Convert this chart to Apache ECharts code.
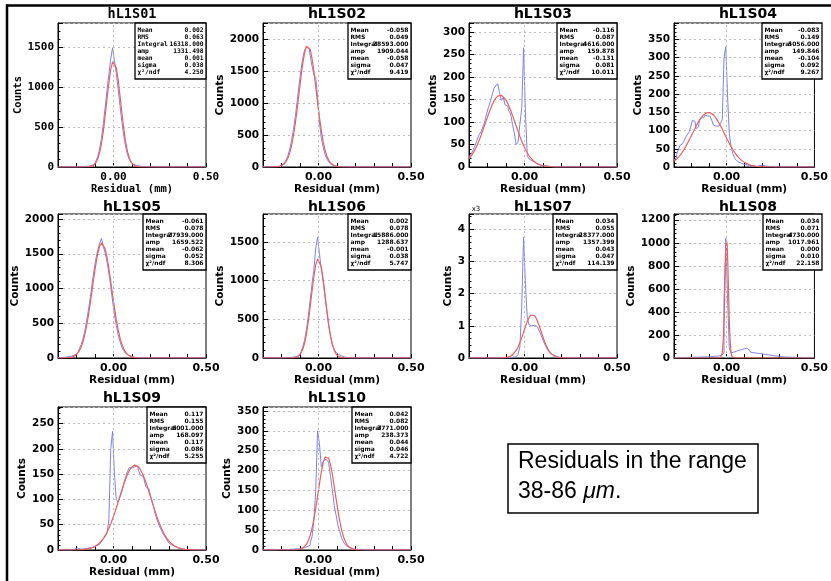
<!DOCTYPE html>
<html><head><meta charset="utf-8">
<script src="https://cdn.jsdelivr.net/npm/echarts@6/dist/echarts.min.js"></script>
<style>html,body{margin:0;padding:0;background:#fff}#c{width:831px;height:581px}</style>
</head><body><div id="c"></div>
<script>
// ---------------- DATA ----------------
const panelNames = ['hL1S01','hL1S02','hL1S03','hL1S04','hL1S05','hL1S06','hL1S07','hL1S08','hL1S09','hL1S10'];
const xTickLabels = ['0.00','0.50'];
const xAxisTitle = 'Residual (mm)';
const yAxisTitle = 'Counts';
const yMax = [1800,2250,320,395,2072,1860,4480,1250,283,360];
const yStep = [500,500,50,50,500,500,1000,200,50,50];

const binCenters = [
 -0.30,-0.29,-0.28,-0.27,-0.26,-0.25,-0.24,-0.23,-0.22,-0.21,
 -0.20,-0.19,-0.18,-0.17,-0.16,-0.15,-0.14,-0.13,-0.12,-0.11,
 -0.10,-0.09,-0.08,-0.07,-0.06,-0.05,-0.04,-0.03,-0.02,-0.01,
 0.00,0.01,0.02,0.03,0.04,0.05,0.06,0.07,0.08,0.09,
 0.10,0.11,0.12,0.13,0.14,0.15,0.16,0.17,0.18,0.19,
 0.20,0.21,0.22,0.23,0.24,0.25,0.26,0.27,0.28,0.29,
 0.30,0.31,0.32,0.33,0.34,0.35,0.36,0.37,0.38,0.39,
 0.40,0.41,0.42,0.43,0.44,0.45,0.46,0.47,0.48,0.49,
 0.50];

const fitX = [-0.300,
 -0.295,-0.285,-0.275,-0.265,-0.255,-0.245,-0.235,-0.225,-0.215,-0.205,
 -0.195,-0.185,-0.175,-0.165,-0.155,-0.145,-0.135,-0.125,-0.115,-0.105,
 -0.095,-0.085,-0.075,-0.065,-0.055,-0.045,-0.035,-0.025,-0.015,-0.005,
 0.005,0.015,0.025,0.035,0.045,0.055,0.065,0.075,0.085,0.095,
 0.105,0.115,0.125,0.135,0.145,0.155,0.165,0.175,0.185,0.195,
 0.205,0.215,0.225,0.235,0.245,0.255,0.265,0.275,0.285,0.295,
 0.305,0.315,0.325,0.335,0.345,0.355,0.365,0.375,0.385,0.395,
 0.405,0.415,0.425,0.435,0.445,0.455,0.465,0.475,0.485,0.495,
 0.500];

const fit8X = [-0.3,-0.05,-0.04,-0.035,-0.03,-0.025,-0.02,-0.0175,-0.015,-0.0125,-0.01,-0.0075,-0.005,-0.0025,0,
 0.0025,0.005,0.0075,0.01,0.0125,0.015,0.0175,0.02,0.025,0.03,0.035,0.04,0.05,0.5];

const hist1 = [
 0,0,0,0,0,0,0,0,0,0,
 0,2,3,4,6,8,10,14,20,28,
 45,75,135,225,360,540,750,960,1160,1350,
 1490,1330,1170,980,770,570,400,260,160,95,
 55,32,20,14,10,8,6,5,4,3,
 3,2,2,1,1,1,0,0,0,0,
 0,0,0,0,0,0,0,0,0,0,
 0,0,0,0,0,0,0,0,0,0,
 0];
const hist2 = [
 2,2,3,3,4,5,5,7,9,12,
 20,38,70,110,180,280,420,590,800,1030,
 1280,1510,1700,1830,1870,1850,1740,1580,1440,1400,
 1100,700,460,310,200,130,80,48,28,16,
 10,7,5,4,3,2,2,1,1,1,
 0,0,1,0,0,0,0,0,0,0,
 0,0,0,0,0,0,0,0,0,0,
 0,0,0,0,0,0,0,0,0,0,
 0];
const hist3 = [
 20,25,32,40,50,62,72,78,90,100,
 118,132,145,160,175,180,185,165,148,155,
 138,135,125,118,95,75,50,55,95,130,
 265,120,25,18,14,11,9,7,5,4,
 3,3,2,2,1,1,0,0,0,0,
 0,0,0,0,0,0,0,0,0,0,
 0,0,0,0,0,0,0,0,0,0,
 0,0,0,0,0,0,0,0,0,0,
 0];
const hist4 = [
 20,25,35,48,60,64,70,80,88,95,
 110,128,125,105,110,128,135,135,142,140,
 140,145,128,115,112,112,114,120,130,300,
 330,195,92,56,37,25,18,13,10,8,
 7,6,5,4,4,3,3,2,3,4,
 5,4,3,2,2,1,1,1,0,1,
 1,0,0,1,0,0,0,0,0,0,
 0,0,0,0,0,0,0,0,0,0,
 0];
const hist5 = [
 3,5,6,8,12,17,22,28,35,45,
 62,88,130,190,280,390,540,700,880,1080,
 1270,1430,1560,1650,1720,1610,1510,1380,1220,1030,
 820,620,470,340,240,160,105,68,43,28,
 18,12,8,6,4,3,2,2,1,1,
 0,1,0,0,0,0,0,0,0,0,
 0,0,0,0,0,0,0,0,0,0,
 0,0,0,0,0,0,0,0,0,0,
 0];
const hist6 = [
 0,0,0,0,0,0,0,0,0,0,
 2,3,4,5,6,8,10,14,20,30,
 45,78,140,235,370,545,750,960,1140,1420,
 1560,1350,1150,990,800,610,420,280,175,110,
 70,45,28,18,12,8,5,3,2,2,
 1,1,0,0,0,0,0,0,0,0,
 0,0,0,0,0,0,0,0,0,0,
 0,0,0,0,0,0,0,0,0,0,
 0];
const hist7 = [
 0,0,0,0,0,0,0,0,0,0,
 0,0,0,0,0,1,1,2,2,3,
 4,6,9,14,22,35,60,110,350,1600,
 3750,2300,1250,1030,1000,1020,1000,970,900,780,
 630,490,360,250,170,115,75,50,35,25,
 18,12,9,7,5,4,3,2,2,1,
 1,0,0,0,0,0,0,0,0,0,
 0,0,0,0,0,0,0,0,0,0,
 0];
const hist8 = [
 2,2,3,3,3,4,4,5,5,5,
 6,6,7,7,8,8,9,9,10,10,
 11,12,14,15,16,18,20,24,40,500,
 1040,520,90,45,50,58,64,68,72,76,
 80,84,82,70,52,46,44,42,40,38,
 34,33,31,30,27,24,21,19,17,15,
 13,11,10,9,8,8,7,7,6,6,
 5,5,5,4,4,3,3,3,2,2,
 2];
const hist9 = [
 0,0,0,0,0,0,0,0,0,2,
 4,3,2,2,3,3,4,4,5,6,
 7,9,11,14,18,22,27,33,60,200,
 235,150,100,95,105,115,130,145,155,163,
 162,165,162,166,158,148,146,140,125,122,
 115,100,88,72,60,50,42,34,28,22,
 16,12,9,7,5,4,3,2,2,1,
 1,1,0,0,0,0,0,0,0,0,
 0];
const hist10 = [
 0,0,0,0,0,0,0,0,0,1,
 2,2,1,1,2,2,2,3,3,3,
 4,5,6,7,9,12,18,33,75,150,
 300,268,210,222,228,226,218,185,150,112,
 88,62,46,31,20,13,8,5,4,3,
 2,2,1,1,0,0,0,0,0,0,
 0,0,0,0,0,0,0,0,0,0,
 0,0,0,0,0,0,0,0,0,0,
 0];

const fit1 = [0,
 0,0,0,0,0,0,0,0,0,0,
 0,0,0,0,0,1,2,5,13,27,
 54,103,180,294,449,640,850,1053,1218,1315,
 1324,1243,1090,892,681,485,322,199,116,63,
 31,15,7,3,1,0,0,0,0,0,
 0,0,0,0,0,0,0,0,0,0,
 0,0,0,0,0,0,0,0,0,0,
 0,0,0,0,0,0,0,0,0,0,
 0];
const fit2 = [0,
 0,0,0,0,0,1,2,3,7,14,
 27,50,86,143,227,344,500,688,915,1158,
 1401,1619,1788,1888,1905,1837,1694,1493,1256,1010,
 778,573,401,269,173,106,62,35,19,10,
 5,2,1,0,0,0,0,0,0,0,
 0,0,0,0,0,0,0,0,0,0,
 0,0,0,0,0,0,0,0,0,0,
 0,0,0,0,0,0,0,0,0,0,
 0];
const fit3 = [18.1,
 20.6,26.3,33,40.7,49.5,59.4,70.1,81.6,93.4,105.3,
 117,128,138,146.4,153,157.5,159.7,159.4,156.8,151.9,
 144.9,136,126,114.7,103,91,79.3,68,57.4,47.7,
 39,31.6,25,19.6,15,11.4,8.5,6.3,4.5,3.2,
 2.3,1.6,1.1,0.7,0.5,0.3,0.2,0.1,0,0,
 0,0,0,0,0,0,0,0,0,0,
 0,0,0,0,0,0,0,0,0,0,
 0,0,0,0,0,0,0,0,0,0,
 0];
const fit4 = [15.5,
 17.4,21.6,26.6,32.4,39,46.3,54.4,63.1,72.3,82,
 91.9,101.7,111.2,120.3,128.5,135.6,141.6,146,148.7,149.8,
 149.1,146.6,142.5,136.9,130,122,113.1,103.6,93.8,83.9,
 74.2,64.9,56.1,47.9,40.3,33.6,27.8,22.6,18.2,14.4,
 11.3,8.8,6.8,5.1,3.8,2.8,2.1,1.5,1.1,0.8,
 0.6,0.4,0.3,0.2,0.1,0,0,0,0,0,
 0,0,0,0,0,0,0,0,0,0,
 0,0,0,0,0,0,0,0,0,0,
 0];
const fit5 = [0,
 0,0,0,0.7,1.7,3.4,6.6,12.3,21.9,37.9,
 63,101,156.5,233.5,335,464,619,797,988,1179,
 1358,1505,1608,1657,1644,1573,1450,1288,1103,910,
 724,555,409,292,200,132,84,51.6,30,17,
 9.6,5,2.5,1.2,0,0,0,0,0,0,
 0,0,0,0,0,0,0,0,0,0,
 0,0,0,0,0,0,0,0,0,0,
 0,0,0,0,0,0,0,0,0,0,
 0];
const fit6 = [0,
 0,0,0,0,0,0,0,0,0,0,
 0,0,0,0,0,1,2.6,6.3,14.3,30,
 60.6,112,192.6,312,469,659,863,1055,1203,1281,
 1273,1179,1019,822,619,434,284,174,99,53,
 26,12.4,5.2,2.2,1,0,0,0,0,0,
 0,0,0,0,0,0,0,0,0,0,
 0,0,0,0,0,0,0,0,0,0,
 0,0,0,0,0,0,0,0,0,0,
 0];
const fit7 = [0,
 0,0,0,0,0,0,0,0,0,0,
 0,0,0,0,0,0,1,2.3,4.8,9.5,
 18,33,58,97,154,235,342,477,634,806,
 979,1136,1261,1338,1356,1314,1216,1076,911,736,
 569,420,297,200,129,79,47,26,14,7,
 3.5,1.7,0.8,0,0,0,0,0,0,0,
 0,0,0,0,0,0,0,0,0,0,
 0,0,0,0,0,0,0,0,0,0,
 0];
const fit8 = [0,0,0.3,2.2,11.3,44.7,137.8,220,330.5,466,617.5,768,898,986.6,1018,
 986.6,898,768,617.5,466,330.5,220,137.8,44.7,11.3,2.2,0.3,0,0];
const fit9 = [0,
 0,0,0,0,0,0,0,0,0,0,
 0.2,0.3,0.5,0.8,1.1,1.6,2.3,3.2,4.4,6,
 8,10.7,13.9,17.9,22.7,28.5,35.3,43,51.8,61.5,
 72,83.2,94.9,106.7,118.4,129.6,140,149.2,156.9,162.7,
 166.5,168,167.4,164.5,159.4,152.4,143.8,134,123,111.4,
 99.6,87.8,76.4,65.6,55.6,46.4,38.2,31.1,25,19.8,
 15.4,11.9,9,6.8,5,3.6,2.6,1.9,1.3,0.9,
 0.6,0.4,0.3,0.2,0.1,0,0,0,0,0,
 0];
const fit10 = [0,
 0,0,0,0,0,0,0,0,0,0,
 0,0,0,0,0,0,0,0,0.5,1.2,
 2.5,4.7,8.4,14.4,23.5,36.7,54.6,77.4,104.7,135.2,
 166.4,195.5,218.9,233.9,238.3,231.7,214.8,190,160.3,128.9,
 99,72.5,50.6,33.7,21.4,13,7.5,4.1,2.2,1.1,
 0.5,0,0,0,0,0,0,0,0,0,
 0,0,0,0,0,0,0,0,0,0,
 0,0,0,0,0,0,0,0,0,0,
 0];

const statLabels = ['Mean','RMS','Integral','amp','mean','sigma','\u03c7\u00b2/ndf'];
const stats1  = ['0.002','0.063','16318.000','1331.498','0.001','0.038','4.250'];
const stats2  = ['-0.058','0.049','28593.000','1909.044','-0.058','0.047','9.419'];
const stats3  = ['-0.116','0.087','4616.000','159.878','-0.131','0.081','10.011'];
const stats4  = ['-0.083','0.149','5056.000','149.846','-0.104','0.092','9.267'];
const stats5  = ['-0.061','0.078','27939.000','1659.522','-0.062','0.052','8.306'];
const stats6  = ['0.002','0.078','15886.000','1288.637','-0.001','0.038','5.747'];
const stats7  = ['0.034','0.055','28377.000','1357.399','0.043','0.047','114.139'];
const stats8  = ['0.034','0.071','4730.000','1017.961','0.000','0.010','22.158'];
const stats9  = ['0.117','0.155','5001.000','168.097','0.117','0.086','5.255'];
const stats10 = ['0.042','0.082','3771.000','238.373','0.044','0.046','4.722'];

const multiplierLabel = 'x3';
const noteLine1 = 'Residuals in the range';
const noteLine2a = '38-86 ';
const noteLine2b = '\u03bcm';
const noteLine2c = '.';

// ---------------- LAYOUT ----------------
const hists = [hist1,hist2,hist3,hist4,hist5,hist6,hist7,hist8,hist9,hist10];
const fits = [fit1,fit2,fit3,fit4,fit5,fit6,fit7,fit8,fit9,fit10];
const fitXs = [fitX,fitX,fitX,fitX,fitX,fitX,fitX,fit8X,fitX,fitX];
const stats = [stats1,stats2,stats3,stats4,stats5,stats6,stats7,stats8,stats9,stats10];

const colLeft = [58,263,469,674];
const rowTop = [23,214,407];
const rowH = [144,144,143];
const plotW = 148;
const titleY = [14.5,207,398];
const countsGap = [32,37,30.5,30,36.5,37,14,37.5,29.5,29];
const boxW = [71,63,60,60,63,63,64,59,59,59];
const boxH = 56;

const SANS = '"DejaVu Sans"';
const MONO = '"DejaVu Sans Mono"';

const grids=[], xAxes=[], yAxes=[], series=[], graphics=[];
for (let k=0;k<10;k++){
  const col=k%4, row=Math.floor(k/4);
  const fam = k===0 ? MONO : SANS;
  const famName = k===0 ? 'DejaVu Sans Mono' : 'DejaVu Sans';
  const L=colLeft[col], T=rowTop[row], H=rowH[row];
  grids.push({left:L, top:T, width:plotW, height:H, show:true, borderColor:'#000', borderWidth:1, backgroundColor:'rgba(0,0,0,0)'});
  xAxes.push({
    gridIndex:k, type:'value', min:-0.3, max:0.5, interval:0.1,
    axisLine:{show:true, onZero:false, lineStyle:{color:'#000', width:1}},
    axisTick:{show:true, inside:true, length:4, lineStyle:{color:'#000', width:1}},
    axisLabel:{show:true, margin:5, fontFamily:famName, fontWeight:'bold', fontSize:11, color:'#000',
      showMinLabel:true, showMaxLabel:true, hideOverlap:false,
      formatter:(v)=> Math.abs(v)<1e-6 ? xTickLabels[0] : (Math.abs(v-0.5)<1e-6 ? xTickLabels[1] : '')},
    splitLine:{show:false},
    name:xAxisTitle, nameLocation:'middle', nameGap:16,
    nameTextStyle:{fontFamily:famName, fontWeight:'bold', fontSize:10.5, color:'#000'}
  });
  const step=yStep[k];
  yAxes.push({
    gridIndex:k, type:'value', min:0, max:yMax[k], interval:step,
    axisLine:{show:true, onZero:false, lineStyle:{color:'#000', width:1}},
    axisTick:{show:true, inside:true, length:5, lineStyle:{color:'#000', width:1}},
    minorTick:{show:true, splitNumber:5, length:2.5, lineStyle:{color:'#000', width:1}},
    axisLabel:{show:true, margin:4, fontFamily:famName, fontWeight:'bold', fontSize:k===0?11:10.5, color:'#000',
      showMaxLabel:true, hideOverlap:false,
      formatter:(v)=>{ const r=v/step; if (Math.abs(r-Math.round(r))>1e-6) return ''; return k===6 ? String(Math.round(v/1000)) : String(Math.round(v)); }},
    splitLine:{show:true, lineStyle:{color:'#bdbdbd', type:[2,3], width:1}},
    name:yAxisTitle, nameLocation:'middle', nameGap:countsGap[k], nameRotate:90,
    nameTextStyle:{fontFamily:famName, fontWeight:'bold', fontSize:10.5, color:'#000'}
  });
  series.push({
    type:'line', xAxisIndex:k, yAxisIndex:k, step:'middle', symbol:'none', showSymbol:false,
    data: binCenters.map((x,i)=>[x,hists[k][i]]),
    lineStyle:{color:'#7f82ea', width:1}, silent:true, z:3,
    markLine:{silent:true, symbol:'none', label:{show:false}, animation:false,
      lineStyle:{color:'#bdbdbd', type:[2,3], width:1}, data:[{xAxis:0}]}
  });
  series.push({
    type:'line', xAxisIndex:k, yAxisIndex:k, symbol:'none', showSymbol:false,
    data: fitXs[k].map((x,i)=>[x,fits[k][i]]),
    lineStyle:{color:'#e9605c', width:1.2}, silent:true, z:4
  });
  graphics.push({type:'text', x:L+plotW/2, y:titleY[row], z:10,
    style:{text:panelNames[k], font:'bold '+(k===0?'13.5px ':'14px ')+fam, fill:'#000',
      textAlign:'center', textVerticalAlign:'middle', align:'center', verticalAlign:'middle'}});
  const bw=boxW[k], bx=L+plotW-bw, by=T;
  graphics.push({type:'rect', shape:{x:bx, y:by, width:bw, height:boxH}, z:20,
    style:{fill:'#fff', stroke:'#000', lineWidth:1.3}});
  for (let r=0;r<7;r++){
    const yy = by+7.3+7*r;
    const f = k===0 ? 'bold 6.3px '+MONO : 'bold 6px '+SANS;
    graphics.push({type:'text', x:bx+2.5, y:yy, z:21,
      style:{text:statLabels[r], font:f, fill:'#000', textAlign:'left', textVerticalAlign:'middle', align:'left', verticalAlign:'middle'}});
    graphics.push({type:'text', x:bx+bw-2.5, y:yy, z:21,
      style:{text:stats[k][r], font:f, fill:'#000', textAlign:'right', textVerticalAlign:'middle', align:'right', verticalAlign:'middle'}});
  }
}
graphics.push({type:'text', x:colLeft[2]+7, y:rowTop[1]-5, z:10,
  style:{text:multiplierLabel, font:'7px '+SANS, fill:'#000', textAlign:'center', textVerticalAlign:'middle', align:'center', verticalAlign:'middle'}});
graphics.push({type:'rect', shape:{x:508, y:444, width:250, height:69}, z:10,
  style:{fill:'#fff', stroke:'#000', lineWidth:1.5}});
graphics.push({type:'text', x:518, y:462, z:11,
  style:{text:noteLine1, font:'23px "Liberation Sans"', fill:'#000', textAlign:'left', textVerticalAlign:'middle', align:'left', verticalAlign:'middle'}});
graphics.push({type:'text', x:518, y:491.5, z:11,
  style:{text:'{n|'+noteLine2a+'}{i|'+noteLine2b+'}{n|'+noteLine2c+'}', fill:'#000', textAlign:'left', textVerticalAlign:'middle', align:'left', verticalAlign:'middle',
    rich:{n:{font:'23px "Liberation Sans"', fill:'#000'}, i:{font:'italic 23px "Liberation Sans"', fill:'#000'}}}});
graphics.push({type:'line', shape:{x1:6, y1:5.5, x2:831, y2:5.5}, z:30, style:{stroke:'#000', lineWidth:2.5}});
graphics.push({type:'line', shape:{x1:7, y1:4.5, x2:7, y2:581}, z:30, style:{stroke:'#000', lineWidth:2.5}});

const chart = echarts.init(document.getElementById('c'), null, {renderer:'canvas'});
chart.setOption({
  animation:false,
  backgroundColor:'#fff',
  grid:grids, xAxis:xAxes, yAxis:yAxes, series:series,
  graphic:{elements:graphics}
});
</script>
</body></html>
